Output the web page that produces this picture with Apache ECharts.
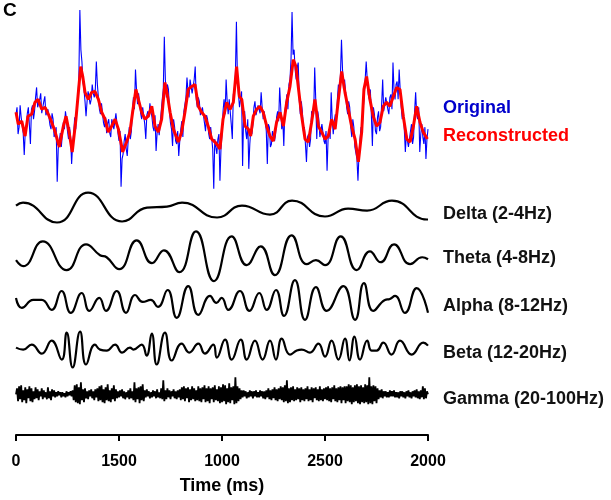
<!DOCTYPE html>
<html lang="en">
<head>
    <meta charset="UTF-8">
    <title>EEG bands</title>
    <script src="https://cdn.jsdelivr.net/npm/echarts@6/dist/echarts.min.js"></script>
</head>
<body style="margin:0;background:#fff;">
<div id="main" style="width: 611px;height:500px;"></div>
<script type="text/javascript">
    // x axis tick labels, exactly as printed on the figure
    var timeTicks = ['0', '1500', '1000', '2500', '2000'];

    // raw signal, one value every 5 ms
    var originalStep = 5;
    var original = [
        5, 12, -15, -8, 14, 2, -6, -14, -36, -12, -8, 6, 12, -6, -25, 10, 14, 0, 8, 22,
        32, 12, 10, 20, 26, 6, 4, 18, 23, 4, 2, 10, 12, -6, -10, 6, 0, -18, -20, -8,
        -63, -30, -22, -14, -28, -15, -3, -10, 8, 0, -12, -20, -8, -18, -45, -25, -14, 2, -10, 8,
        20, 40, 110, 70, 58, 38, 30, 18, 3, 18, 28, 30, 15, 20, 35, 26, 22, 30, 58, 35,
        22, 10, 5, 16, 14, -4, -8, 2, -14, -4, 0, -14, -18, 0, 2, -10, -8, 6, 4, -14,
        -22, -12, -68, -40, -35, -22, -15, -30, -37, -20, -8, -20, -12, 8, 22, 10, 50, 30, 15, 26,
        24, 6, 0, 12, 10, -5, -20, 4, 8, 2, 16, 8, 2, -8, -12, 4, -32, -14, -5, -16,
        -14, 8, 20, 30, 83, 40, 22, 35, 30, 8, -4, -10, -27, 0, -8, -22, -25, -12, -37, -22,
        -10, -2, -18, 8, 15, 22, 42, 28, 22, 40, 38, 26, 28, 40, 53, 20, 12, 22, 18, 4,
        2, 12, 10, -4, -12, 4, 0, -14, -20, -8, -10, -30, -70, -20, -28, -35, -20, -15, -62, -30,
        -15, 8, 20, 5, 40, 18, 5, 20, 18, -5, -20, 25, 30, 45, 98, 40, 25, 12, 20, 28,
        -47, 5, 8, -12, -20, 0, -50, -25, -10, -15, -5, 12, 18, 4, 2, 14, 15, 6, 27, 12,
        0, 8, 10, -12, -45, -5, -8, -28, -25, -12, -10, -22, -15, 2, 8, -2, 32, 12, -10, 0,
        -27, 8, 15, 25, 10, 35, 40, 60, 108, 65, 70, 50, 40, 52, 57, 20, 5, 18, 8, -12,
        -8, -25, -43, -18, -15, -28, -20, 8, 10, 5, 52, 20, -20, 8, 0, -18, -18, -5, -5, -22,
        -25, -12, -52, -20, -10, -20, 27, 0, -15, -2, 5, -5, 20, 35, 25, 45, 80, 50, 30, 40,
        27, 12, 5, 18, 12, -8, -18, 0, -8, -28, -30, -40, -62, -35, -20, -8, -15, 10, 22, 40,
        58, 40, 25, 20, 30, 5, -27, 12, 5, -12, -15, 2, 8, -12, -8, 15, 40, 8, 10, 22,
        22, 10, 5, 22, 25, 10, 57, 30, 20, 35, 38, 20, 50, 30, 12, 0, 10, -10, -33, -15,
        -15, -28, -30, -12, -5, -25, -18, 8, 27, 5, 0, 12, -33, -15, -5, -18, -25, -8, -40, -20,
        -10
    ];

    // reconstructed signal [ms, value]
    var reconstructed = [
        [0, 7], [11, -5], [28, -2], [44, -17], [58, 3], [76, 5], [92, 17], [107, 20], [125, 10],
        [141, 12], [157, 5], [173, -3], [189, -12], [210, -28], [230, -7], [243, 3], [257, -12],
        [273, -33], [291, 0], [304, 30], [314, 53], [324, 43], [335, 27], [351, 20], [367, 27],
        [383, 28], [400, 20], [416, 7], [432, 0], [448, -13], [464, -7], [481, 0], [497, -10],
        [518, -33], [537, -23], [553, -13], [566, 7], [582, 30], [594, 20], [610, 7], [626, 0],
        [642, 3], [659, 13], [675, -7], [691, -13], [707, 0], [723, 37], [736, 23], [748, 7],
        [764, -10], [788, -23], [804, -13], [820, 7], [836, 30], [853, 33], [869, 35], [885, 13],
        [901, 7], [917, 3], [933, -7], [950, -20], [966, -23], [981, -27], [990, -30], [1005, 0],
        [1023, 17], [1039, 10], [1055, 17], [1071, 53], [1084, 23], [1096, 20], [1112, -7],
        [1128, -10], [1139, -17], [1152, 3], [1168, 10], [1184, 13], [1200, 7], [1217, -7],
        [1233, -17], [1249, -22], [1265, -3], [1282, 7], [1298, -7], [1314, 17], [1330, 33],
        [1346, 60], [1359, 53], [1370, 33], [1387, 3], [1403, -20], [1419, -23], [1435, -3],
        [1451, 20], [1468, -7], [1484, -13], [1500, -20], [1516, -17], [1532, 0], [1549, -10],
        [1565, 20], [1581, 48], [1597, 27], [1613, 10], [1629, -7], [1646, -20], [1662, -43],
        [1678, -13], [1689, 30], [1702, 43], [1718, 20], [1734, 3], [1751, -7], [1767, -3],
        [1783, 13], [1799, 17], [1815, 13], [1832, 23], [1848, 32], [1864, 30], [1880, 3],
        [1897, -20], [1913, -23], [1929, -7], [1945, 13], [1961, -3], [1977, -13], [1997, -20]
    ];

    // band-filtered components, turning points [ms, value]
    var delta = [
        [0, 5], [34, 8], [199, -12], [350, 18], [515, -11], [636, 3], [733, 4], [806, 8],
        [976, -7], [1097, 5], [1233, -4], [1340, 10], [1500, -6], [1612, 2], [1704, 0],
        [1825, 10], [1995, -9], [2000, -9]
    ];
    var theta = [
        [0, -4], [35, -10], [130, 15], [246, -14], [340, 12], [408, 1], [440, -1], [501, -13],
        [586, 16], [660, -7], [718, 6], [793, -16], [874, 25], [961, -25], [1047, 20],
        [1120, -9], [1188, 10], [1257, -19], [1338, 21], [1411, -8], [1456, -4], [1500, -9],
        [1576, 20], [1654, -14], [1718, 5], [1770, -6], [1835, 12], [1913, -8], [1972, -1],
        [2000, -3]
    ];
    var alpha = [
        [0, 3], [28, -7], [84, 1], [125, 1], [173, -9], [221, 10], [266, -12], [319, 8],
        [356, -10], [404, 3], [437, -10], [489, 10], [534, -12], [578, 6], [615, -1], [654, 1],
        [689, -6], [736, 11], [780, -17], [836, 15], [885, -14], [942, 5], [973, -2], [998, 3],
        [1031, -9], [1087, 10], [1133, -10], [1181, 8], [1217, -9], [1262, 11], [1301, -15],
        [1354, 21], [1403, -19], [1456, 14], [1508, -10], [1589, 15], [1646, -19], [1689, 18],
        [1734, -10], [1791, 1], [1815, 2], [1840, 5], [1888, -12], [1945, 13], [2000, -12]
    ];
    var beta = [
        [0, 1], [35, -1], [76, 4], [125, -5], [173, 8], [222, -11], [246, 16], [275, -19],
        [311, 17], [340, -16], [383, 4], [408, -1], [440, -2], [481, 4], [515, -4], [553, 1],
        [570, -1], [610, 4], [634, -7], [659, 15], [683, -16], [723, 16], [756, -12], [804, 5],
        [841, -4], [885, 5], [917, -5], [958, 4], [975, -9], [1015, 9], [1047, -11], [1091, 9],
        [1120, -11], [1160, 8], [1197, -11], [1233, 8], [1262, -11], [1290, 10], [1330, -6],
        [1363, -2], [1387, -1], [1427, -4], [1468, 5], [1500, -8], [1532, 8], [1565, -11],
        [1597, 10], [1619, -12], [1643, 12], [1670, -11], [1705, 8], [1726, -2], [1751, -2],
        [1783, 6], [1823, -6], [1864, 8], [1921, -6], [1977, 6], [2000, 3]
    ];
    // gamma, one value every 5 ms
    var gammaStep = 5;
    var gamma = [
        0, 6, -7, 8, -5, 9, -8, 4, -6, 7, -9, 5, -4, 8, -7, 6, -8, 3, -5, 7,
        -4, 5, -6, 3, -2, 6, -5, 4, -3, 2, -5, 7, -4, 3, -6, 5, -2, 4, -3, 2,
        -2, 3, -1, 2, -3, 2, -2, 1, -3, 3, -2, 2, -1, 3, -2, 4, -6, 9, -8, 10,
        -9, 7, -10, 12, -6, 5, -8, 6, -4, 3, -5, 4, -2, 5, -4, 3, -6, 5, -3, 6,
        -7, 8, -6, 9, -8, 5, -9, 7, -6, 10, -7, 4, -8, 6, -5, 9, -7, 5, -4, 3,
        -3, 4, -2, 5, -4, 3, -5, 2, -3, 4, -5, 6, -4, 3, -6, 12, -8, 6, -5, 7,
        -9, 8, -6, 10, -7, 4, -3, 5, -2, 3, -4, 2, -3, 4, -2, 3, -4, 5, -3, 2,
        -4, 6, -5, 14, -7, 4, -5, 6, -3, 4, -5, 3, -2, 5, -4, 3, -5, 4, -3, 5,
        -6, 7, -5, 8, -7, 6, -4, 7, -8, 5, -6, 8, -5, 6, -7, 4, -6, 8, -7, 6,
        -8, 7, -5, 9, -8, 6, -7, 8, -9, 6, -5, 7, -8, 9, -6, 5, -7, 8, -9, 7,
        -8, 10, -7, 9, -10, 6, -8, 11, -9, 7, -6, 8, -10, 17, -9, 8, -7, 6, -5, 4,
        -3, 4, -2, 3, -4, 2, -3, 4, -2, 3, -4, 3, -2, 4, -3, 2, -3, 4, -2, 3,
        -4, 3, -5, 4, -3, 6, -5, 4, -6, 5, -4, 7, -6, 5, -7, 6, -5, 8, -6, 7,
        -8, 9, -7, 14, -9, 6, -8, 7, -6, 8, -7, 5, -6, 7, -5, 6, -8, 7, -6, 5,
        -7, 6, -5, 8, -7, 5, -6, 7, -8, 6, -4, 7, -6, 5, -7, 8, -6, 5, -7, 6,
        -5, 7, -6, 8, -7, 6, -8, 7, -5, 9, -7, 6, -8, 7, -6, 8, -9, 7, -6, 8,
        -9, 8, -7, 10, -8, 9, -10, 7, -8, 9, -7, 10, -9, 8, -10, 9, -8, 7, -9, 10,
        -8, 9, -10, 17, -9, 8, -10, 9, -7, 8, -9, 6, -5, 4, -3, 5, -4, 3, -2, 3,
        -3, 2, -3, 4, -2, 3, -2, 4, -3, 2, -3, 2, -4, 3, -2, 3, -3, 2, -4, 3,
        -2, 4, -3, 2, -4, 3, -2, 4, -3, 5, -4, 3, -5, 4, -3, 8, -5, 6, -4, 3,
        0
    ];

    var labels = ['Delta (2-4Hz)', 'Theta (4-8Hz)', 'Alpha (8-12Hz)', 'Beta (12-20Hz)', 'Gamma (20-100Hz)'];

    // vertical baseline of each trace (y axis is just a stacking space)
    var topBase = 318;
    var bandBase = [226, 180, 135, 87, 41];

    function shift(points, off) {
        return points.map(function (p) { return [p[0], p[1] + off]; });
    }
    function sampled(values, step, off) {
        return values.map(function (v, i) { return [i * step, v + off]; });
    }

    var myChart = echarts.init(document.getElementById('main'));

    var font = 'Liberation Sans, Arial, sans-serif';
    var bandData = [delta, theta, alpha, beta];
    var series = [
        {
            name: 'Original', type: 'line', showSymbol: false,
            lineStyle: { color: '#0000ff', width: 1.1 },
            data: sampled(original, originalStep, topBase)
        },
        {
            name: 'Reconstructed', type: 'line', showSymbol: false,
            lineStyle: { color: '#ff0000', width: 3 },
            data: shift(reconstructed, topBase)
        }
    ];
    bandData.forEach(function (d, i) {
        series.push({
            name: labels[i], type: 'line', showSymbol: false, smooth: 0.5,
            lineStyle: { color: '#000', width: 2.2 },
            data: shift(d, bandBase[i])
        });
    });
    series.push({
        name: labels[4], type: 'line', showSymbol: false,
        lineStyle: { color: '#000', width: 1.8 },
        data: sampled(gamma, gammaStep, bandBase[4])
    });

    // text on the right side of each trace
    var labelY = [214, 258, 306, 353, 399];
    var graphics = [
        { type: 'text', left: 3, top: 1, style: { text: 'C', font: 'bold 19px ' + font, fill: '#000' } },
        { type: 'text', x: 443, y: 108, style: { text: 'Original', font: 'bold 18px ' + font, fill: '#0000cc', verticalAlign: 'middle' } },
        { type: 'text', x: 443, y: 136, style: { text: 'Reconstructed', font: 'bold 18px ' + font, fill: '#ff0000', verticalAlign: 'middle' } }
    ];
    labels.forEach(function (t, i) {
        graphics.push({ type: 'text', x: 443, y: labelY[i], style: { text: t, font: 'bold 18px ' + font, fill: '#111', verticalAlign: 'middle' } });
    });

    var option = {
        animation: false,
        grid: { left: 16, right: 183, top: 5, bottom: 62 },
        xAxis: {
            type: 'value', min: 0, max: 2000, interval: 500,
            name: 'Time (ms)', nameLocation: 'middle', nameGap: 42,
            nameTextStyle: { fontFamily: font, fontWeight: 'bold', fontSize: 18, color: '#000' },
            axisLine: { lineStyle: { color: '#000', width: 2 } },
            axisTick: { length: 6, lineStyle: { color: '#000', width: 2 } },
            axisLabel: {
                margin: 19, fontFamily: font, fontWeight: 'bold', fontSize: 16, color: '#000',
                formatter: function (v) { return timeTicks[Math.round(v / 500)]; }
            },
            splitLine: { show: false }
        },
        yAxis: { type: 'value', min: 0, max: 433, show: false },
        graphic: graphics,
        series: series
    };

    myChart.setOption(option);
</script>
</body>
</html>
